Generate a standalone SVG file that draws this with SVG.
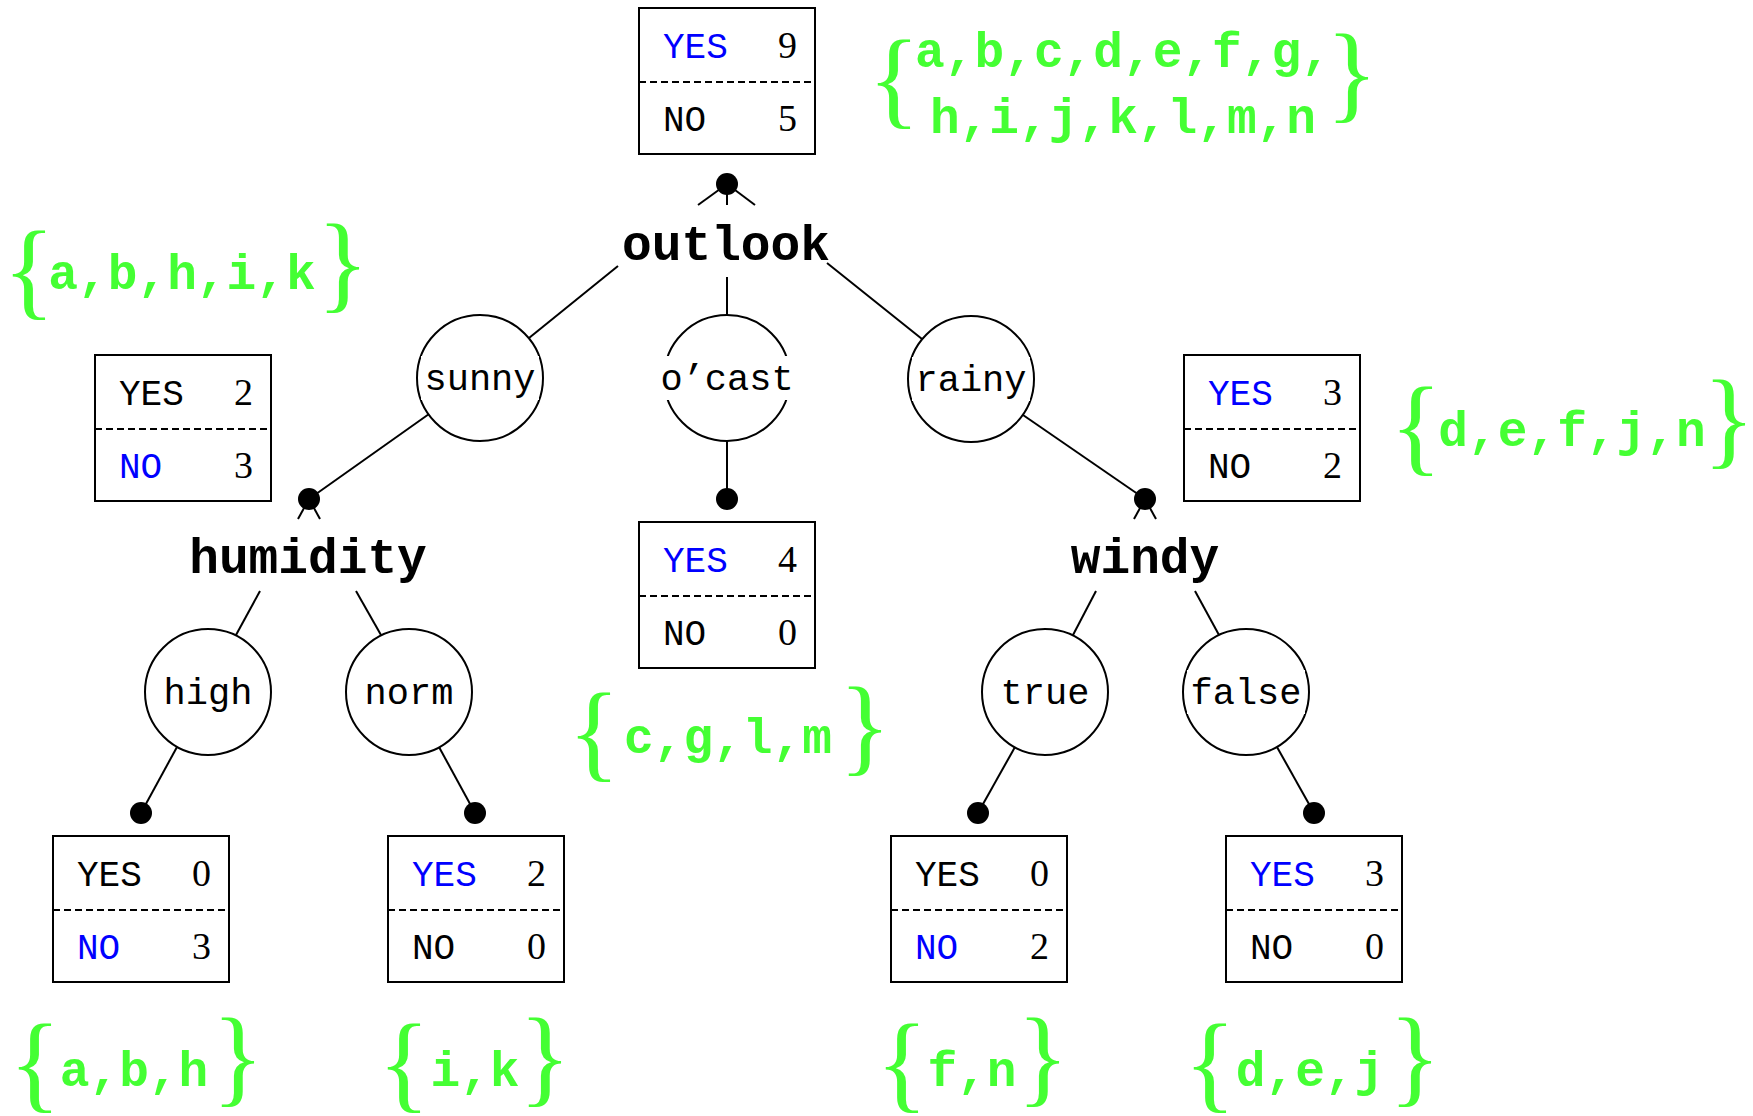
<svg xmlns="http://www.w3.org/2000/svg" width="1753" height="1116" viewBox="0 0 1753 1116">
  <defs>
    <style>
      .box { fill: #ffffff; stroke: #000000; stroke-width: 2; }
      .sep { stroke: #000000; stroke-width: 2; stroke-dasharray: 7 4; }
      .lbl { font-family: "Liberation Mono", "DejaVu Sans Mono", monospace; font-size: 36px; fill: #000000; }
      .blue { fill: #0000ff; }
      .num { font-family: "Liberation Serif", "DejaVu Serif", serif; font-size: 38px; fill: #000000; text-anchor: end; }
      .attr { font-family: "Liberation Mono", "DejaVu Sans Mono", monospace; font-size: 49.5px; font-weight: bold; fill: #000000; text-anchor: middle; }
      .val { fill: #ffffff; stroke: #000000; stroke-width: 2; }
      .valbg { fill: #ffffff; }
      .valtxt { font-family: "Liberation Mono", "DejaVu Sans Mono", monospace; font-size: 37px; fill: #000000; text-anchor: middle; }
      .edge { stroke: #000000; stroke-width: 2; fill: none; }
      .dot { fill: #000000; }
      .set { font-family: "Liberation Mono", "DejaVu Sans Mono", monospace; font-size: 49.5px; font-weight: bold; fill: #44ff33; text-anchor: middle; }
      .brace { font-family: "Liberation Serif", "DejaVu Serif", serif; font-size: 108px; fill: #44ff33; text-anchor: middle; }
    </style>
  </defs>

  <!-- connectors -->
  <g id="connectors">
    <!-- outlook fan and branches -->
    <line class="edge" x1="727" y1="184" x2="698" y2="205"/>
    <line class="edge" x1="727" y1="184" x2="727" y2="205"/>
    <line class="edge" x1="727" y1="184" x2="755" y2="205"/>
    <line class="edge" x1="618" y1="266" x2="529" y2="338"/>
    <line class="edge" x1="727" y1="277" x2="727" y2="315"/>
    <line class="edge" x1="827" y1="263" x2="922" y2="339"/>
    <!-- branch values down to child dots -->
    <line class="edge" x1="429" y1="414" x2="309" y2="499"/>
    <line class="edge" x1="727" y1="441" x2="727" y2="499"/>
    <line class="edge" x1="1023" y1="415" x2="1145" y2="499"/>
    <!-- humidity fan and branches -->
    <line class="edge" x1="309" y1="499" x2="298" y2="519"/>
    <line class="edge" x1="309" y1="499" x2="320" y2="519"/>
    <line class="edge" x1="260" y1="591" x2="236" y2="635"/>
    <line class="edge" x1="356" y1="591" x2="381" y2="635"/>
    <line class="edge" x1="177" y1="747" x2="141" y2="813"/>
    <line class="edge" x1="439" y1="747" x2="475" y2="813"/>
    <!-- windy fan and branches -->
    <line class="edge" x1="1145" y1="499" x2="1134" y2="519"/>
    <line class="edge" x1="1145" y1="499" x2="1156" y2="519"/>
    <line class="edge" x1="1096" y1="591" x2="1073" y2="635"/>
    <line class="edge" x1="1195" y1="591" x2="1219" y2="635"/>
    <line class="edge" x1="1015" y1="747" x2="978" y2="813"/>
    <line class="edge" x1="1277" y1="747" x2="1314" y2="813"/>
    <!-- junction dots -->
    <circle class="dot" cx="727" cy="184" r="11"/>
    <circle class="dot" cx="309" cy="499" r="11"/>
    <circle class="dot" cx="727" cy="499" r="11"/>
    <circle class="dot" cx="1145" cy="499" r="11"/>
    <circle class="dot" cx="141" cy="813" r="11"/>
    <circle class="dot" cx="475" cy="813" r="11"/>
    <circle class="dot" cx="978" cy="813" r="11"/>
    <circle class="dot" cx="1314" cy="813" r="11"/>
  </g>

  <!-- count tables -->
  <g id="count-root">
    <rect class="box" x="639" y="8" width="176" height="146"/>
    <line class="sep" x1="639" y1="82" x2="815" y2="82"/>
    <text class="lbl blue" x="663" y="58">YES</text><text class="num" x="797" y="58">9</text>
    <text class="lbl" x="663" y="131">NO</text><text class="num" x="797" y="131">5</text>
  </g>
  <g id="count-sunny">
    <rect class="box" x="95" y="355" width="176" height="146"/>
    <line class="sep" x1="95" y1="429" x2="271" y2="429"/>
    <text class="lbl" x="119" y="405">YES</text><text class="num" x="253" y="405">2</text>
    <text class="lbl blue" x="119" y="478">NO</text><text class="num" x="253" y="478">3</text>
  </g>
  <g id="count-ocast">
    <rect class="box" x="639" y="522" width="176" height="146"/>
    <line class="sep" x1="639" y1="596" x2="815" y2="596"/>
    <text class="lbl blue" x="663" y="572">YES</text><text class="num" x="797" y="572">4</text>
    <text class="lbl" x="663" y="645">NO</text><text class="num" x="797" y="645">0</text>
  </g>
  <g id="count-rainy">
    <rect class="box" x="1184" y="355" width="176" height="146"/>
    <line class="sep" x1="1184" y1="429" x2="1360" y2="429"/>
    <text class="lbl blue" x="1208" y="405">YES</text><text class="num" x="1342" y="405">3</text>
    <text class="lbl" x="1208" y="478">NO</text><text class="num" x="1342" y="478">2</text>
  </g>
  <g id="count-high">
    <rect class="box" x="53" y="836" width="176" height="146"/>
    <line class="sep" x1="53" y1="910" x2="229" y2="910"/>
    <text class="lbl" x="77" y="886">YES</text><text class="num" x="211" y="886">0</text>
    <text class="lbl blue" x="77" y="959">NO</text><text class="num" x="211" y="959">3</text>
  </g>
  <g id="count-norm">
    <rect class="box" x="388" y="836" width="176" height="146"/>
    <line class="sep" x1="388" y1="910" x2="564" y2="910"/>
    <text class="lbl blue" x="412" y="886">YES</text><text class="num" x="546" y="886">2</text>
    <text class="lbl" x="412" y="959">NO</text><text class="num" x="546" y="959">0</text>
  </g>
  <g id="count-true">
    <rect class="box" x="891" y="836" width="176" height="146"/>
    <line class="sep" x1="891" y1="910" x2="1067" y2="910"/>
    <text class="lbl" x="915" y="886">YES</text><text class="num" x="1049" y="886">0</text>
    <text class="lbl blue" x="915" y="959">NO</text><text class="num" x="1049" y="959">2</text>
  </g>
  <g id="count-false">
    <rect class="box" x="1226" y="836" width="176" height="146"/>
    <line class="sep" x1="1226" y1="910" x2="1402" y2="910"/>
    <text class="lbl blue" x="1250" y="886">YES</text><text class="num" x="1384" y="886">3</text>
    <text class="lbl" x="1250" y="959">NO</text><text class="num" x="1384" y="959">0</text>
  </g>

  <!-- attribute nodes -->
  <g id="attr-outlook"><text class="attr" x="726" y="260">outlook</text></g>
  <g id="attr-humidity"><text class="attr" x="308" y="573">humidity</text></g>
  <g id="attr-windy"><text class="attr" x="1145" y="573">windy</text></g>

  <!-- value nodes -->
  <g id="val-sunny">
    <circle class="val" cx="480" cy="378" r="63"/>
    <rect class="valbg" x="421" y="356" width="118" height="44"/>
    <text class="valtxt" x="480" y="390">sunny</text>
  </g>
  <g id="val-ocast">
    <circle class="val" cx="727" cy="378" r="63"/>
    <rect class="valbg" x="657" y="356" width="140" height="44"/>
    <text class="valtxt" x="727" y="390">o’cast</text>
  </g>
  <g id="val-rainy">
    <circle class="val" cx="971" cy="379" r="63"/>
    <rect class="valbg" x="912" y="357" width="118" height="44"/>
    <text class="valtxt" x="971" y="391">rainy</text>
  </g>
  <g id="val-high">
    <circle class="val" cx="208" cy="692" r="63"/>
    <text class="valtxt" x="208" y="704">high</text>
  </g>
  <g id="val-norm">
    <circle class="val" cx="409" cy="692" r="63"/>
    <text class="valtxt" x="409" y="704">norm</text>
  </g>
  <g id="val-true">
    <circle class="val" cx="1045" cy="692" r="63"/>
    <text class="valtxt" x="1045" y="704">true</text>
  </g>
  <g id="val-false">
    <circle class="val" cx="1246" cy="692" r="63"/>
    <rect class="valbg" x="1187" y="670" width="118" height="44"/>
    <text class="valtxt" x="1246" y="704">false</text>
  </g>

  <!-- example sets -->
  <g id="set-root">
    <text class="brace" x="894" y="115">{</text>
    <text class="set" x="1123" y="67">a,b,c,d,e,f,g,</text>
    <text class="set" x="1123" y="133">h,i,j,k,l,m,n</text>
    <text class="brace" x="1352" y="109">}</text>
  </g>
  <g id="set-sunny">
    <text class="brace" x="29" y="306">{</text>
    <text class="set" x="182" y="289">a,b,h,i,k</text>
    <text class="brace" x="343" y="299">}</text>
  </g>
  <g id="set-ocast">
    <text class="brace" x="594" y="768">{</text>
    <text class="set" x="728" y="753">c,g,l,m</text>
    <text class="brace" x="865" y="762">}</text>
  </g>
  <g id="set-rainy">
    <text class="brace" x="1416" y="462">{</text>
    <text class="set" x="1572" y="446">d,e,f,j,n</text>
    <text class="brace" x="1729" y="455">}</text>
  </g>
  <g id="set-high">
    <text class="brace" x="35" y="1099">{</text>
    <text class="set" x="134" y="1086">a,b,h</text>
    <text class="brace" x="238" y="1093">}</text>
  </g>
  <g id="set-norm">
    <text class="brace" x="404" y="1099">{</text>
    <text class="set" x="475" y="1086">i,k</text>
    <text class="brace" x="545" y="1093">}</text>
  </g>
  <g id="set-true">
    <text class="brace" x="902" y="1099">{</text>
    <text class="set" x="972" y="1086">f,n</text>
    <text class="brace" x="1043" y="1093">}</text>
  </g>
  <g id="set-false">
    <text class="brace" x="1210" y="1099">{</text>
    <text class="set" x="1310" y="1086">d,e,j</text>
    <text class="brace" x="1415" y="1093">}</text>
  </g>
</svg>
